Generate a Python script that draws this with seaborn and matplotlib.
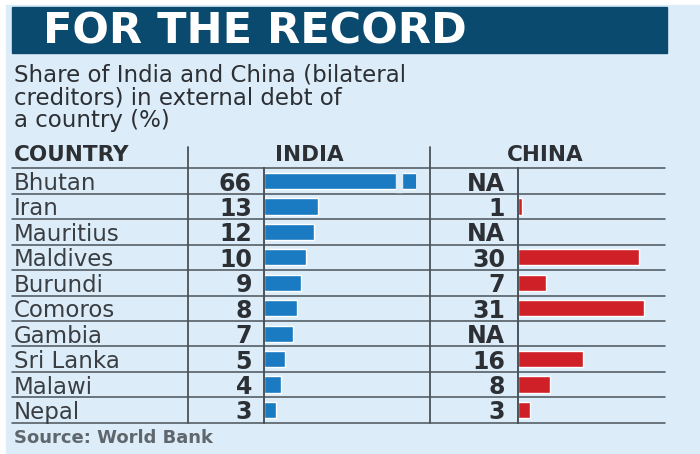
import numpy as np
import pandas as pd
import matplotlib
matplotlib.use("Agg")
import matplotlib.pyplot as plt
import matplotlib.transforms as mtransforms
from matplotlib.patches import Rectangle
import seaborn as sns

# ---------------- data ----------------
countries = ["Bhutan", "Iran", "Mauritius", "Maldives", "Burundi",
             "Comoros", "Gambia", "Sri Lanka", "Malawi", "Nepal"]
india_share = [66, 13, 12, 10, 9, 8, 7, 5, 4, 3]
china_share = [np.nan, 1, np.nan, 30, 7, 31, np.nan, 16, 8, 3]

title = "FOR THE RECORD"
subtitle_lines = ["Share of India and China (bilateral",
                  "creditors) in external debt of",
                  "a country (%)"]
col_headers = ["COUNTRY", "INDIA", "CHINA"]
source = "Source: World Bank"

df = pd.DataFrame({"country": countries, "india": india_share, "china": china_share})

# ---------------- style ----------------
BG = "#dcedf9"
HEADER = "#0b4a6f"
BLUE = "#1a7bc3"
RED = "#cf2027"
LINE = "#4b5359"
TXT = "#2c2f33"

sns.set_theme(style="white")
plt.rcParams["font.family"] = ["DejaVu Sans"]

W, H = 700, 454
fig = plt.figure(figsize=(W / 100, H / 100), dpi=100)
fig.patch.set_facecolor("white")

# background canvas in pixel coordinates
bg = fig.add_axes([0, 0, 1, 1])
bg.set_xlim(0, W)
bg.set_ylim(H, 0)
bg.axis("off")
bg.add_patch(Rectangle((6, 5), W - 6, H - 5, color=BG, zorder=0))

# header bar
bg.add_patch(Rectangle((12, 7), 655, 46, color=HEADER, zorder=1))
bg.text(43, 31, title, color="white", fontsize=31, fontweight="bold",
        va="center", ha="left", zorder=2)

# subtitle as one multi-line text
bg.text(14, 64, "\n".join(subtitle_lines), color=TXT, fontsize=16.5,
        linespacing=0.97, va="top", ha="left")

# table geometry (pixels)
top_px, bot_px = 168.3, 422.7
in_l, in_r = 264, 416
cn_l, cn_r = 518, 665


def px_rect(l, r, t, b):
    return [l / W, 1 - b / H, (r - l) / W, (b - t) / H]


ax_in = fig.add_axes(px_rect(in_l, in_r, top_px, bot_px))
ax_cn = fig.add_axes(px_rect(cn_l, cn_r, top_px, bot_px))

sns.barplot(data=df, x="india", y="country", order=countries, orient="h",
            color=BLUE, saturation=1, width=0.64, errorbar=None, ax=ax_in)
sns.barplot(data=df, x="china", y="country", order=countries, orient="h",
            color=RED, saturation=1, width=0.64, errorbar=None, ax=ax_cn)

ax_in.set_xlim(0, 36.6)
ax_cn.set_xlim(0, 36.3)

for ax in (ax_in, ax_cn):
    ax.set_facecolor("none")
    ax.set_xlabel("")
    ax.set_ylabel("")
    ax.set_xticks([])
    ax.set_yticks([])
    for s in ("top", "right", "bottom"):
        ax.spines[s].set_visible(False)
    ax.spines["left"].set_color(LINE)
    ax.spines["left"].set_linewidth(1.4)

# break in the truncated Bhutan bar
ax_in.add_patch(Rectangle((31.9, -0.45), 1.3, 0.9, color=BG, zorder=5))

# blended transform: x in pixels, y in row units
tr = mtransforms.blended_transform_factory(bg.transData, ax_in.transData)

# horizontal rules
for yb in np.arange(-0.5, len(countries), 1.0):
    bg.plot([12, 665], [yb, yb], color=LINE, lw=1.1, transform=tr,
            clip_on=False, zorder=3)

# vertical rules
for xv in (188, 430):
    bg.plot([xv, xv], [147, bot_px], color=LINE, lw=1.3, zorder=3)

# column headers
hy = 155
hfs = 15.5
bg.text(14, hy, col_headers[0], fontsize=hfs, fontweight="bold", color=TXT,
        va="center", ha="left")
bg.text(309, hy, col_headers[1], fontsize=hfs, fontweight="bold", color=TXT,
        va="center", ha="center")
bg.text(545, hy, col_headers[2], fontsize=hfs, fontweight="bold", color=TXT,
        va="center", ha="center")

# rows
for i, (c, v_in, v_cn) in enumerate(zip(countries, india_share, china_share)):
    bg.text(14, i, c, fontsize=16.5, color="#3a3e42", va="center_baseline",
            ha="left", transform=tr)
    bg.text(252, i, f"{v_in:g}", fontsize=17, fontweight="bold", color=TXT,
            va="center_baseline", ha="right", transform=tr)
    lab = "NA" if np.isnan(v_cn) else f"{v_cn:g}"
    bg.text(505, i, lab, fontsize=17, fontweight="bold", color=TXT,
            va="center_baseline", ha="right", transform=tr)

bg.text(14, 438, source, fontsize=13, fontweight="bold", color="#5f666c",
        va="center", ha="left")

fig.savefig("out.png", dpi=100, facecolor=fig.get_facecolor())
